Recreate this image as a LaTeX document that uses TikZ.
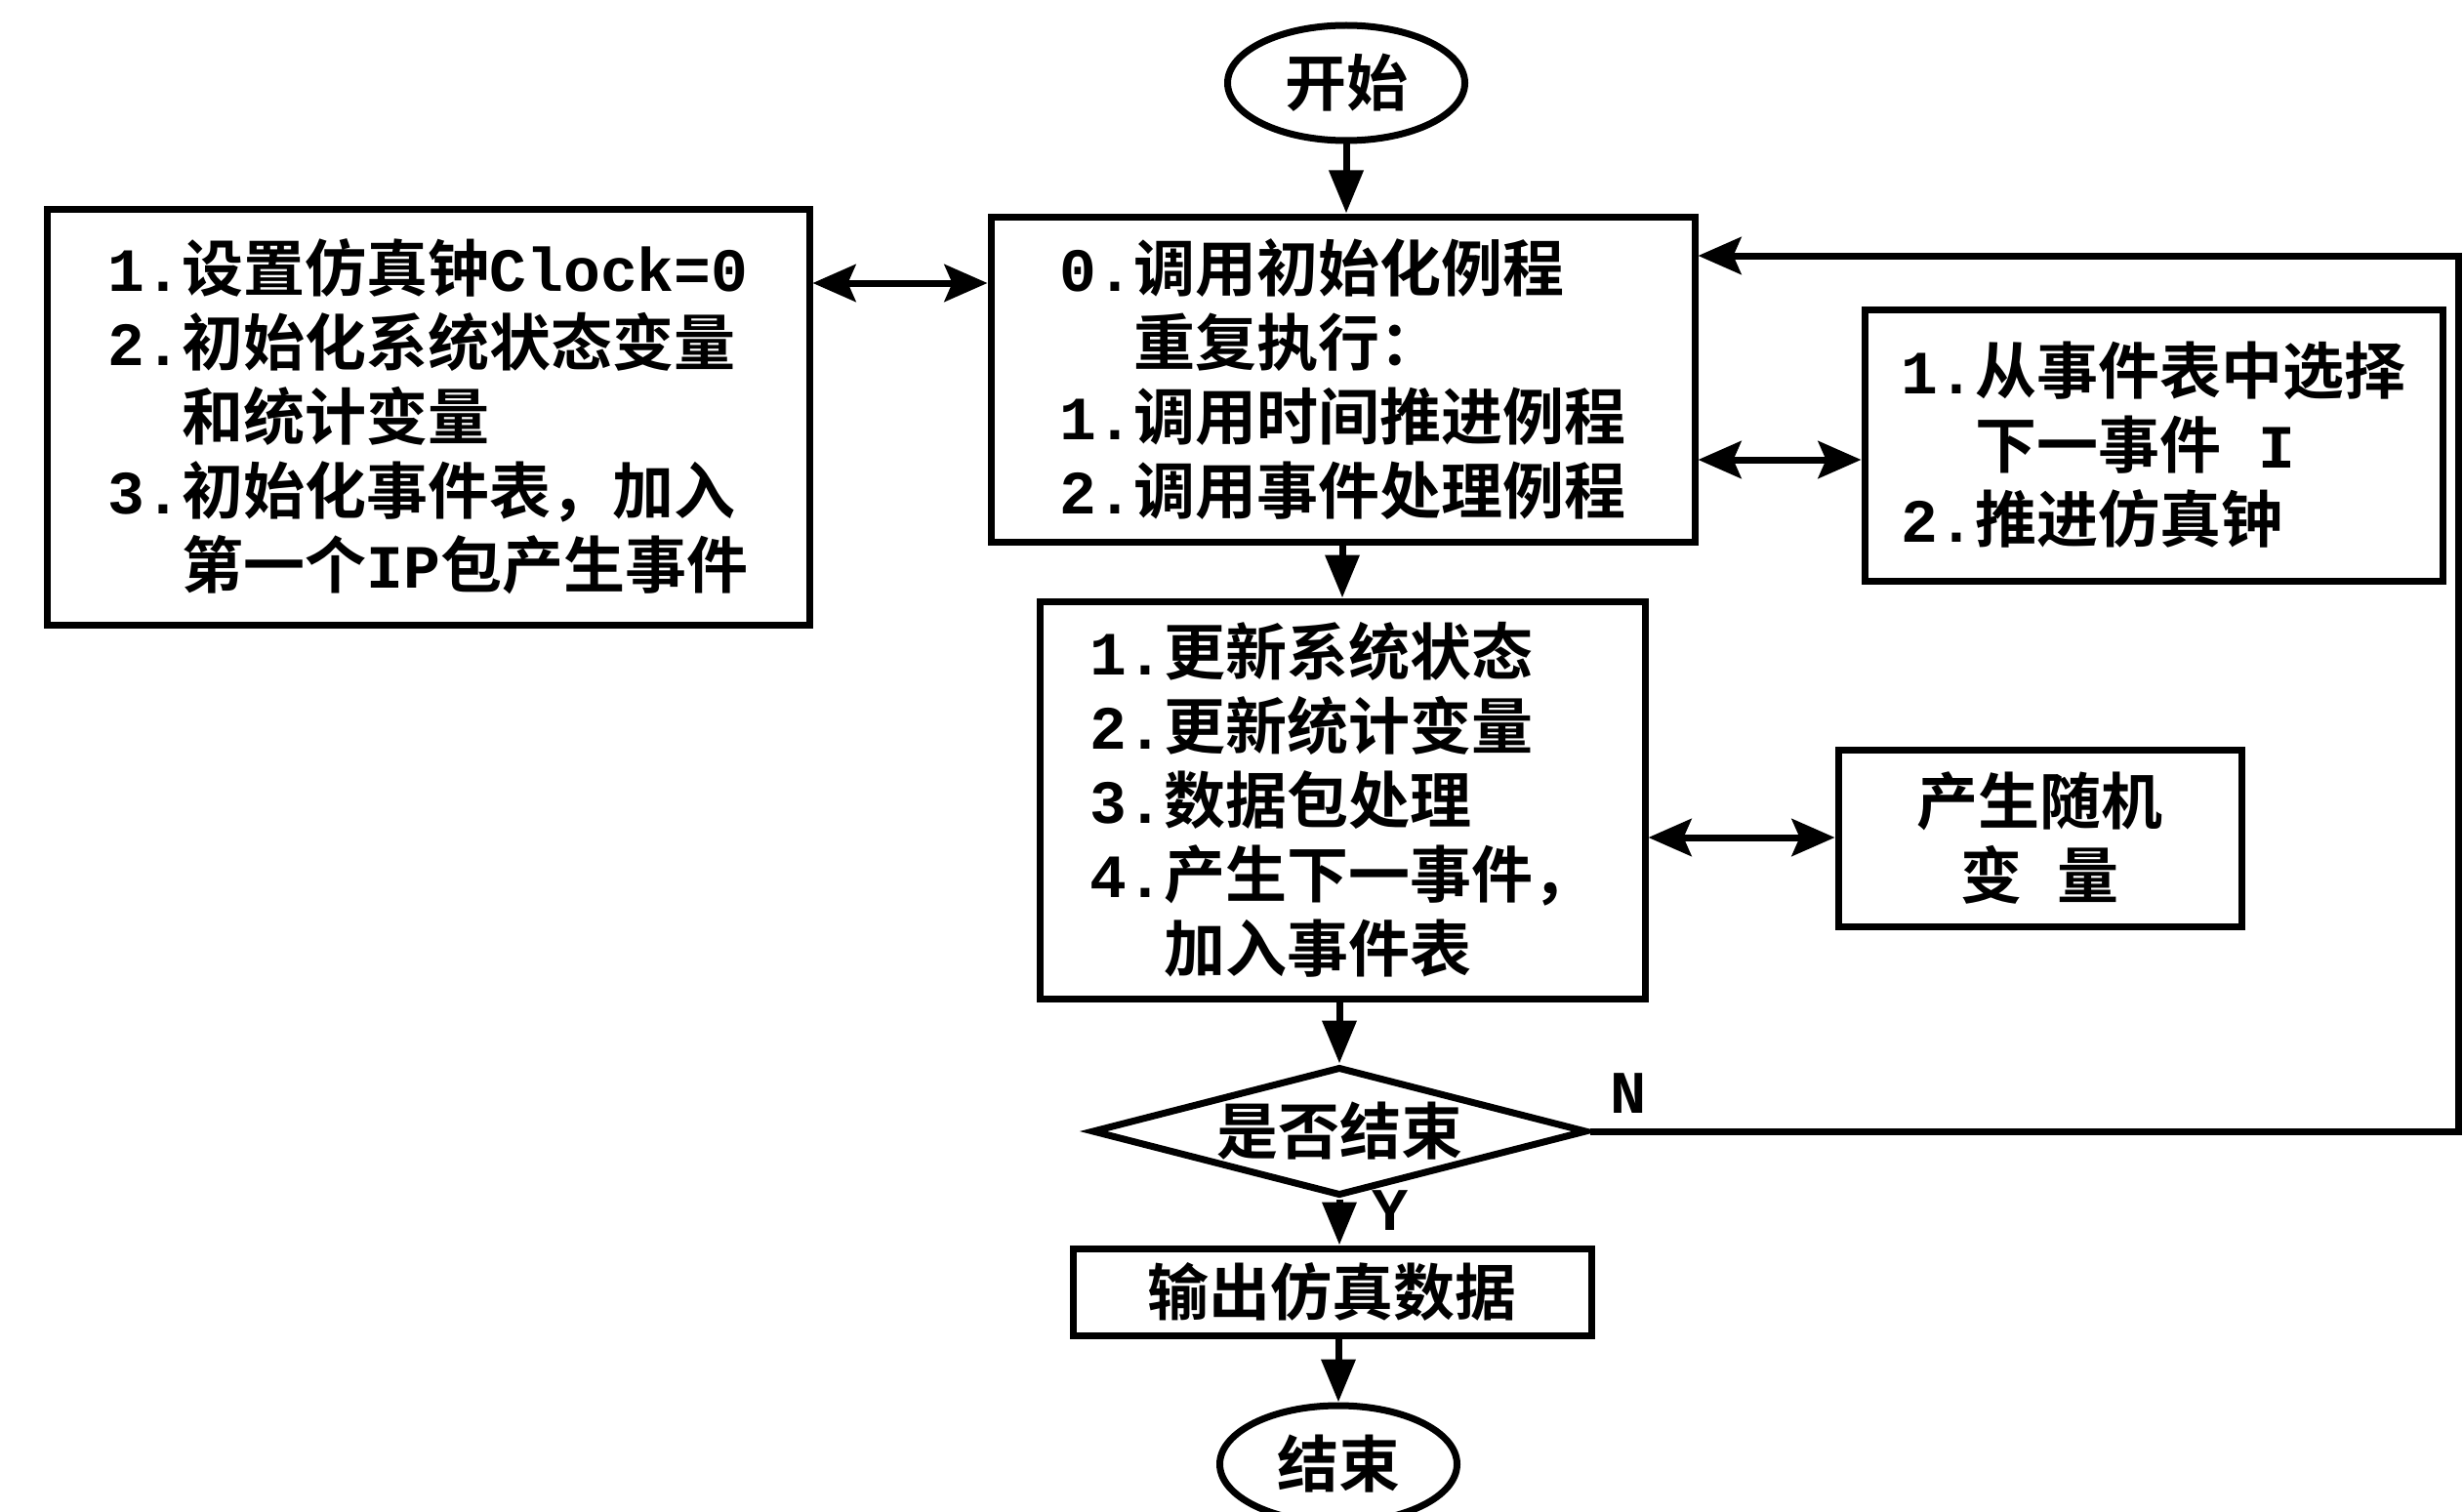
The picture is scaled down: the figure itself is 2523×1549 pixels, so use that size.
\documentclass[tikz,border=0pt]{standalone}
\usepackage{fontspec}
\setmainfont{Noto Sans CJK SC Bold}
\newfontfamily\mono{Liberation Mono}
\usetikzlibrary{shapes.geometric,arrows.meta}
\newcommand{\nm}[1]{\makebox[76pt][l]{\mono\bfseries #1}}
\newcommand{\ind}{\hspace*{76pt}}
\newcommand{\lat}[1]{{\mono\bfseries #1}}
\begin{document}
\begin{tikzpicture}[x=1pt,y=-1pt,
  box/.style={draw, line width=7pt, inner sep=0pt, align=left, font=\fontsize{63}{76}\selectfont},
  conn/.style={line width=7pt},
  ar/.style={conn, -{Triangle[length=44pt,width=34pt]}},
  dar/.style={conn, {Stealth[length=44pt,width=38pt,inset=8pt]}-{Stealth[length=44pt,width=38pt,inset=8pt]}},
  lbl/.style={inner sep=0pt, font=\fontsize{62}{62}\mono\bfseries}]
\useasboundingbox[fill=white] (0,0) rectangle (2523,1549);

\node[box, ellipse, minimum width=243pt, minimum height=118pt] (start) at (1379,85) {开始};

\node[box, minimum width=721pt, minimum height=333pt] (main) at (1375.5,388.5)
  {\nm{0.}调用初始化例程\\
   \ind 重复执行：\\
   \nm{1.}调用时间推进例程\\
   \nm{2.}调用事件处理例程};

\node[box, minimum width=781pt, minimum height=426pt] (left) at (438.5,427)
  {\nm{1.}设置仿真钟\lat{Clock=0}\\
   \nm{2.}初始化系统状态变量\\
   \ind 和统计变量\\
   \nm{3.}初始化事件表，加入\\
   \ind 第一个\lat{IP}包产生事件};

\node[box, minimum width=592pt, minimum height=278pt] (sel) at (2206,456)
  {\nm{1.}从事件表中选择\\
   \ind 下一事件\lat{ I}\\
   \nm{2.}推进仿真钟};

\node[box, minimum width=620pt, minimum height=407pt] (upd) at (1375,819.5)
  {\nm{1.}更新系统状态\\
   \nm{2.}更新统计变量\\
   \nm{3.}数据包处理\\
   \nm{4.}产生下一事件，\\
   \ind 加入事件表};

\node[box, align=center, minimum width=413pt, minimum height=181pt] (rnd) at (2089.5,858.5)
  {产生随机\\变\hspace{36pt}量};

\node[box, diamond, aspect=3.84, minimum width=507pt, minimum height=132pt] (dec) at (1372,1159) {是否结束};

\node[box, minimum width=531pt, minimum height=89pt] (out) at (1364.5,1323.5) {输出仿真数据};

\node[box, ellipse, minimum width=243pt, minimum height=120pt] (end) at (1371,1500) {结束};

\node[lbl] (nlab) at (1668,1120) {N};
\node[lbl] (ylab) at (1424,1240) {Y};

\coordinate (fb1) at (2518,1159);
\coordinate (fb2) at (2518,262);

\draw[ar] (start.south) -- (start.south |- main.north);
\draw[ar] (main.south -| upd.north) -- (upd.north);
\draw[ar] (upd.south -| dec.north) -- (dec.north);
\draw[ar] (dec.south) -- (dec.south |- out.north);
\draw[ar] (out.south -| end.north) -- (end.north);

\draw[dar] (left.east |- 0,290) -- (main.west |- 0,290);
\draw[dar] (main.east |- 0,471) -- (sel.west |- 0,471);
\draw[dar] (upd.east |- 0,858) -- (rnd.west |- 0,858);

\draw[conn, -{Stealth[length=44pt,width=38pt,inset=8pt]}] (dec.east) -- (fb1) -- (fb2) -- (main.east |- fb2);
\end{tikzpicture}
\end{document}
